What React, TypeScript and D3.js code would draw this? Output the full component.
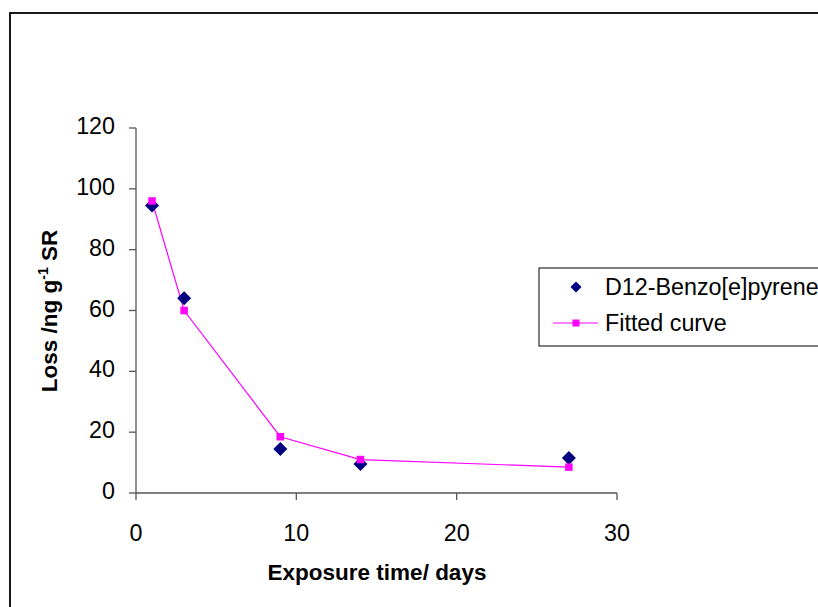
import React from "react";
import * as d3 from "d3";

const days = [1, 3, 9, 14, 27];
const measured = [94.5, 64, 14.5, 9.5, 11.5];
const fitted = [96, 60, 18.5, 11, 8.5];
const xTicks = [0, 10, 20, 30];
const yTicks = [0, 20, 40, 60, 80, 100, 120];
const seriesNames = ["D12-Benzo[e]pyrene", "Fitted curve"];

const W = 818;
const H = 607;
const font = "'Liberation Sans', Arial, sans-serif";
const FS = 23.3;

export default function App() {
  const x = d3.scaleLinear().domain([0, 30]).range([136, 617]);
  const y = d3.scaleLinear().domain([0, 120]).range([493, 128]);
  const line = d3
    .line<number>()
    .x((_, i) => x(days[i]))
    .y((d) => y(d));
  const diamond = (cx: number, cy: number, r: number) =>
    `M${cx},${cy - r}L${cx + r},${cy}L${cx},${cy + r}L${cx - r},${cy}Z`;

  return (
    <svg
      width={W}
      height={H}
      style={{ position: "absolute", left: 0, top: 0, background: "#fff" }}
      fontFamily={font}
    >
      <rect x={0} y={0} width={W} height={H} fill="#fff" />
      <rect x={10} y={13} width={W + 20} height={H + 20} fill="none" stroke="#000" strokeWidth={1.8} />

      {/* y axis */}
      <line x1={x(0)} x2={x(0)} y1={y(120)} y2={y(0)} stroke="#555" strokeWidth={1.3} />
      {yTicks.map((t) => (
        <g key={"y" + t}>
          <line x1={x(0) - 7} x2={x(0)} y1={y(t)} y2={y(t)} stroke="#555" strokeWidth={1.3} />
          <text x={115} y={y(t) + 6} textAnchor="end" fontSize={FS} fill="#000">
            {t}
          </text>
        </g>
      ))}

      {/* x axis */}
      <line x1={x(0)} x2={x(30)} y1={y(0)} y2={y(0)} stroke="#555" strokeWidth={1.3} />
      {xTicks.map((t) => (
        <g key={"x" + t}>
          <line x1={x(t)} x2={x(t)} y1={y(0)} y2={y(0) + 7} stroke="#555" strokeWidth={1.3} />
          <text x={x(t)} y={541} textAnchor="middle" fontSize={FS} fill="#000">
            {t}
          </text>
        </g>
      ))}

      {/* axis titles */}
      <text x={377} y={580} textAnchor="middle" fontSize={22.5} fontWeight="bold" fill="#000">
        Exposure time/ days
      </text>
      <text
        transform={`translate(57,311) rotate(-90)`}
        textAnchor="middle"
        fontSize={22.5}
        fontWeight="bold"
        fill="#000"
      >
        Loss /ng g<tspan dy={-9} fontSize={14}>-1</tspan>
        <tspan dy={9}> SR</tspan>
      </text>

      {/* fitted curve */}
      <path d={line(fitted) || ""} fill="none" stroke="#FF00FF" strokeWidth={1.2} />

      {/* measured diamonds */}
      {measured.map((v, i) => (
        <path key={"m" + i} d={diamond(x(days[i]), y(v), 7)} fill="#000080" />
      ))}

      {/* fitted squares */}
      {fitted.map((v, i) => (
        <rect key={"f" + i} x={x(days[i]) - 3.75} y={y(v) - 3.75} width={7.5} height={7.5} fill="#FF00FF" />
      ))}

      {/* legend */}
      <rect x={539} y={268} width={300} height={78} fill="#fff" stroke="#000" strokeWidth={1} />
      <path d={diamond(576, 287, 5.5)} fill="#000080" />
      <text x={605} y={295} fontSize={FS} fill="#000">
        {seriesNames[0]}
      </text>
      <line x1={553} x2={598} y1={323} y2={323} stroke="#FF00FF" strokeWidth={1.2} />
      <rect x={572.5} y={319.5} width={7} height={7} fill="#FF00FF" />
      <text x={605} y={331} fontSize={FS} fill="#000">
        {seriesNames[1]}
      </text>
    </svg>
  );
}
